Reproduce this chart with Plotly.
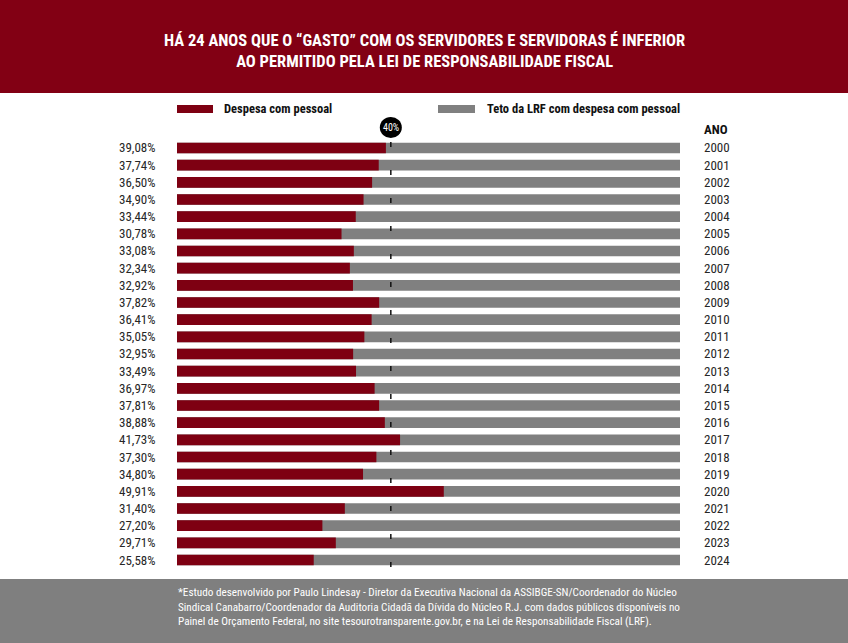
import plotly.graph_objects as go

years = list(range(2000, 2025))
despesa = [39.08, 37.74, 36.50, 34.90, 33.44, 30.78, 33.08, 32.34, 32.92, 37.82,
           36.41, 35.05, 32.95, 33.49, 36.97, 37.81, 38.88, 41.73, 37.30, 34.80,
           49.91, 31.40, 27.20, 29.71, 25.58]
pct_labels = [f"{v:.2f}".replace(".", ",") + "%" for v in despesa]
limite = 40
title_lines = ["HÁ 24 ANOS QUE O “GASTO” COM OS SERVIDORES E SERVIDORAS É INFERIOR",
               "AO PERMITIDO PELA LEI DE RESPONSABILIDADE FISCAL"]
footer_lines = ["*Estudo desenvolvido por Paulo Lindesay - Diretor da Executiva Nacional da ASSIBGE-SN/Coordenador do Núcleo",
                "Sindical Canabarro/Coordenador da Auditoria Cidadã da Dívida do Núcleo R.J. com dados públicos disponíveis no",
                "Painel de Orçamento Federal, no site tesourotransparente.gov.br, e na Lei de Responsabilidade Fiscal (LRF)."]

XMAX = 94.1
RED = "#7e0012"
GRAY = "#808080"
FONT = "Roboto Condensed, Liberation Sans Narrow, DejaVu Sans Condensed, Roboto, sans-serif"

W, H = 848, 643
def py(p):
    return 1 - p / H
def px(p):
    return p / W

fig = go.Figure()
fig.add_trace(go.Bar(y=years, x=[XMAX] * len(years), orientation="h", width=0.62,
                     marker=dict(color=GRAY, line=dict(width=0)), showlegend=False,
                     hoverinfo="skip"))
fig.add_trace(go.Bar(y=years, x=despesa, orientation="h", width=0.62,
                     marker=dict(color=RED, line=dict(width=0)), showlegend=False))

annotations = []
for y, lab in zip(years, pct_labels):
    annotations.append(dict(x=px(157), xref="paper", y=y, yref="y", text=lab,
                            xanchor="right", yanchor="middle", showarrow=False,
                            font=dict(size=13, color="#262626", family=FONT)))
    annotations.append(dict(x=px(702), xref="paper", y=y, yref="y", text=str(y),
                            xanchor="left", yanchor="middle", showarrow=False,
                            font=dict(size=13, color="#262626", family=FONT)))
annotations.append(dict(x=px(702), xref="paper", y=py(129), yref="paper", text="<b>ANO</b>",
                        xanchor="left", yanchor="middle", showarrow=False,
                        font=dict(size=13, color="#111111", family=FONT)))
# title
annotations.append(dict(x=0.5, xref="paper", y=py(51), yref="paper",
                        text="<b>" + "<br>".join(title_lines) + "</b>",
                        showarrow=False, align="center", yanchor="middle",
                        font=dict(size=16.5, color="white", family=FONT)))
# legend
annotations.append(dict(x=px(222), xref="paper", y=py(109), yref="paper",
                        text="<b>Despesa com pessoal</b>", xanchor="left", yanchor="middle",
                        showarrow=False,
                        font=dict(size=12.5, color="#111111", family=FONT)))
annotations.append(dict(x=px(485), xref="paper", y=py(109), yref="paper",
                        text="<b>Teto da LRF com despesa com pessoal</b>", xanchor="left",
                        yanchor="middle", showarrow=False,
                        font=dict(size=12.5, color="#111111", family=FONT)))
# 40% badge
annotations.append(dict(x=limite, xref="x", y=py(127.5), yref="paper", text=f"{limite}%",
                        yanchor="middle", showarrow=False,
                        font=dict(size=10, color="white", family=FONT)))
# footer
annotations.append(dict(x=px(176), xref="paper", y=py(607), yref="paper",
                        text="<br>".join(footer_lines), xanchor="left", align="left",
                        yanchor="middle", showarrow=False,
                        font=dict(size=11.2, color="white", family=FONT)))

shapes = [
    dict(type="rect", xref="paper", yref="paper", x0=0, x1=1, y0=py(93), y1=1,
         fillcolor="#820014", line=dict(width=0), layer="below"),
    dict(type="rect", xref="paper", yref="paper", x0=0, x1=1, y0=0, y1=py(579),
         fillcolor="#7f7f7f", line=dict(width=0), layer="below"),
    dict(type="rect", xref="paper", yref="paper", x0=px(177), x1=px(213), y0=py(113), y1=py(105),
         fillcolor=RED, line=dict(width=0)),
    dict(type="rect", xref="paper", yref="paper", x0=px(438), x1=px(475), y0=py(113), y1=py(105),
         fillcolor=GRAY, line=dict(width=0)),
    dict(type="line", xref="x", yref="paper", x0=limite, x1=limite, y0=py(142), y1=py(568),
         line=dict(color="#111111", width=1.5, dash="5px,23px")),
    dict(type="circle", xref="x", yref="paper", xsizemode="pixel", ysizemode="pixel",
         xanchor=limite, yanchor=py(127.5), x0=-11, x1=11, y0=-10.5, y1=10.5,
         fillcolor="black", line=dict(width=0)),
]

fig.update_layout(
    width=W, height=H, margin=dict(l=0, r=0, t=0, b=0, pad=0),
    paper_bgcolor="white", plot_bgcolor="white",
    barmode="overlay",
    xaxis=dict(range=[0, XMAX], domain=[px(177), px(680)], visible=False, fixedrange=True),
    yaxis=dict(domain=[py(568.6), py(139.4)], range=[years[-1] + 0.5, years[0] - 0.5],
               visible=False, fixedrange=True),
    annotations=annotations, shapes=shapes,
    font=dict(family=FONT),
)
fig.write_html("out.html", config={"displayModeBar": False},
               post_script="document.body.style.margin='0';document.body.style.overflow='hidden';")
